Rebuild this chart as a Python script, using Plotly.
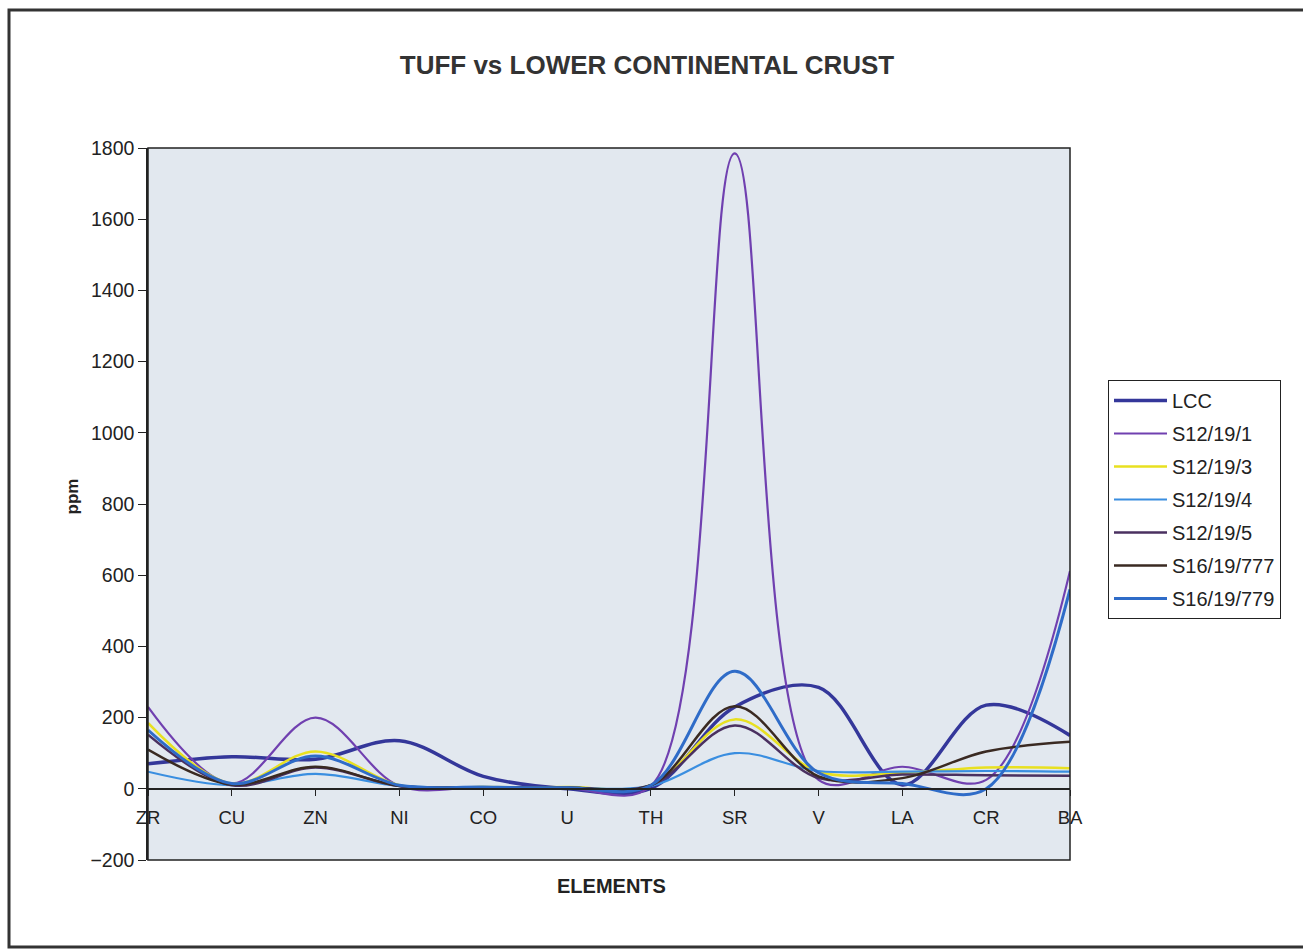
import plotly.graph_objects as go

# Element categories along the x axis
elements = ["ZR", "CU", "ZN", "NI", "CO", "U", "TH", "SR", "V", "LA", "CR", "BA"]

# Concentrations in ppm
lcc = [70, 90, 83, 135, 35, 0.28, 1.06, 230, 285, 11, 235, 150]
s12_19_1 = [230, 15, 200, 8, 5, 2, 8, 1785, 25, 62, 25, 612]
s12_19_3 = [185, 15, 105, 10, 5, 5, 10, 195, 48, 45, 60, 58]
s12_19_4 = [48, 10, 42, 8, 4, 3, 8, 100, 50, 48, 50, 48]
s12_19_5 = [152, 10, 60, 8, 4, 3, 10, 178, 30, 40, 38, 37]
s16_19_777 = [110, 12, 62, 8, 4, 3, 10, 232, 35, 30, 105, 132]
s16_19_779 = [165, 15, 92, 10, 5, 3, 10, 330, 45, 15, 0, 560]

series = [
    ("LCC", lcc, "#34379a", 3.5),
    ("S12/19/1", s12_19_1, "#7040b0", 2.2),
    ("S12/19/3", s12_19_3, "#e8e020", 2.5),
    ("S12/19/4", s12_19_4, "#3a8ee0", 2.2),
    ("S12/19/5", s12_19_5, "#4a3060", 2.5),
    ("S16/19/777", s16_19_777, "#3a2a22", 2.5),
    ("S16/19/779", s16_19_779, "#2f6cc8", 3.0),
]

y_ticks = list(range(-200, 2000, 200))

fig = go.Figure()
for name, vals, color, width in series:
    fig.add_trace(go.Scatter(
        x=elements, y=vals, name=name, mode="lines",
        legendgroup=name,
        line=dict(color=color, width=width, shape="spline", smoothing=1.0),
    ))

# plot area in pixels: x 148..1070, y 148..860
L, R, T, B = 148, 1070, 148, 860
W, H = 1303, 951
pw, ph = R - L, B - T


def px_x(px):
    return (px - L) / pw


def px_y(py):
    return (B - py) / ph


font = "Liberation Sans, Arial, sans-serif"
ink = "#222222"

fig.update_layout(
    width=W, height=H,
    margin=dict(l=L, r=W - R, t=T, b=H - B, pad=0),
    paper_bgcolor="white",
    plot_bgcolor="#e2e8ef",
    font=dict(family=font, size=19, color=ink),
    title=dict(text="<b>TUFF vs LOWER CONTINENTAL CRUST</b>",
               x=647 / W, xref="container", xanchor="center",
               y=1 - 65 / H, yref="container", yanchor="middle",
               font=dict(size=26, color="#333333")),
    showlegend=True,
    legend=dict(x=px_x(1108), y=px_y(380), xanchor="left", yanchor="top",
                bgcolor="white", bordercolor=ink, borderwidth=1,
                font=dict(size=20, color=ink), itemwidth=53,
                traceorder="grouped", tracegroupgap=4),
    xaxis=dict(type="category", range=[0, len(elements) - 1],
               anchor="free", position=(0 - (-200)) / 2000,
               showline=True, linecolor=ink, linewidth=1.5,
               ticks="outside", ticklen=6, tickcolor=ink,
               ticklabelstandoff=6,
               showgrid=False, zeroline=False,
               tickfont=dict(size=18.5, color=ink)),
    yaxis=dict(range=[-200, 1800], tickvals=y_ticks,
               showline=True, linecolor=ink, linewidth=1.5,
               ticks="outside", ticklen=8, tickcolor=ink,
               showgrid=False, zeroline=False,
               tickfont=dict(size=19.5, color=ink)),
    annotations=[
        dict(text="<b>ppm</b>", x=px_x(60), y=px_y(497), xref="paper", yref="paper",
             textangle=-90, showarrow=False, font=dict(size=17, color=ink)),
        dict(text="<b>ELEMENTS</b>", x=px_x(611), y=px_y(899), xref="paper", yref="paper",
             showarrow=False, font=dict(size=20, color=ink)),
    ],
    shapes=[
        # frame of the plot area
        dict(type="rect", xref="paper", yref="paper", x0=0, x1=1, y0=0, y1=1,
             line=dict(color=ink, width=1.5)),
        # outer chart border
        dict(type="rect", xref="paper", yref="paper",
             x0=px_x(9), x1=px_x(1320), y0=px_y(947), y1=px_y(10),
             line=dict(color="#333333", width=3)),
    ],
)

fig.write_html("out.html")
